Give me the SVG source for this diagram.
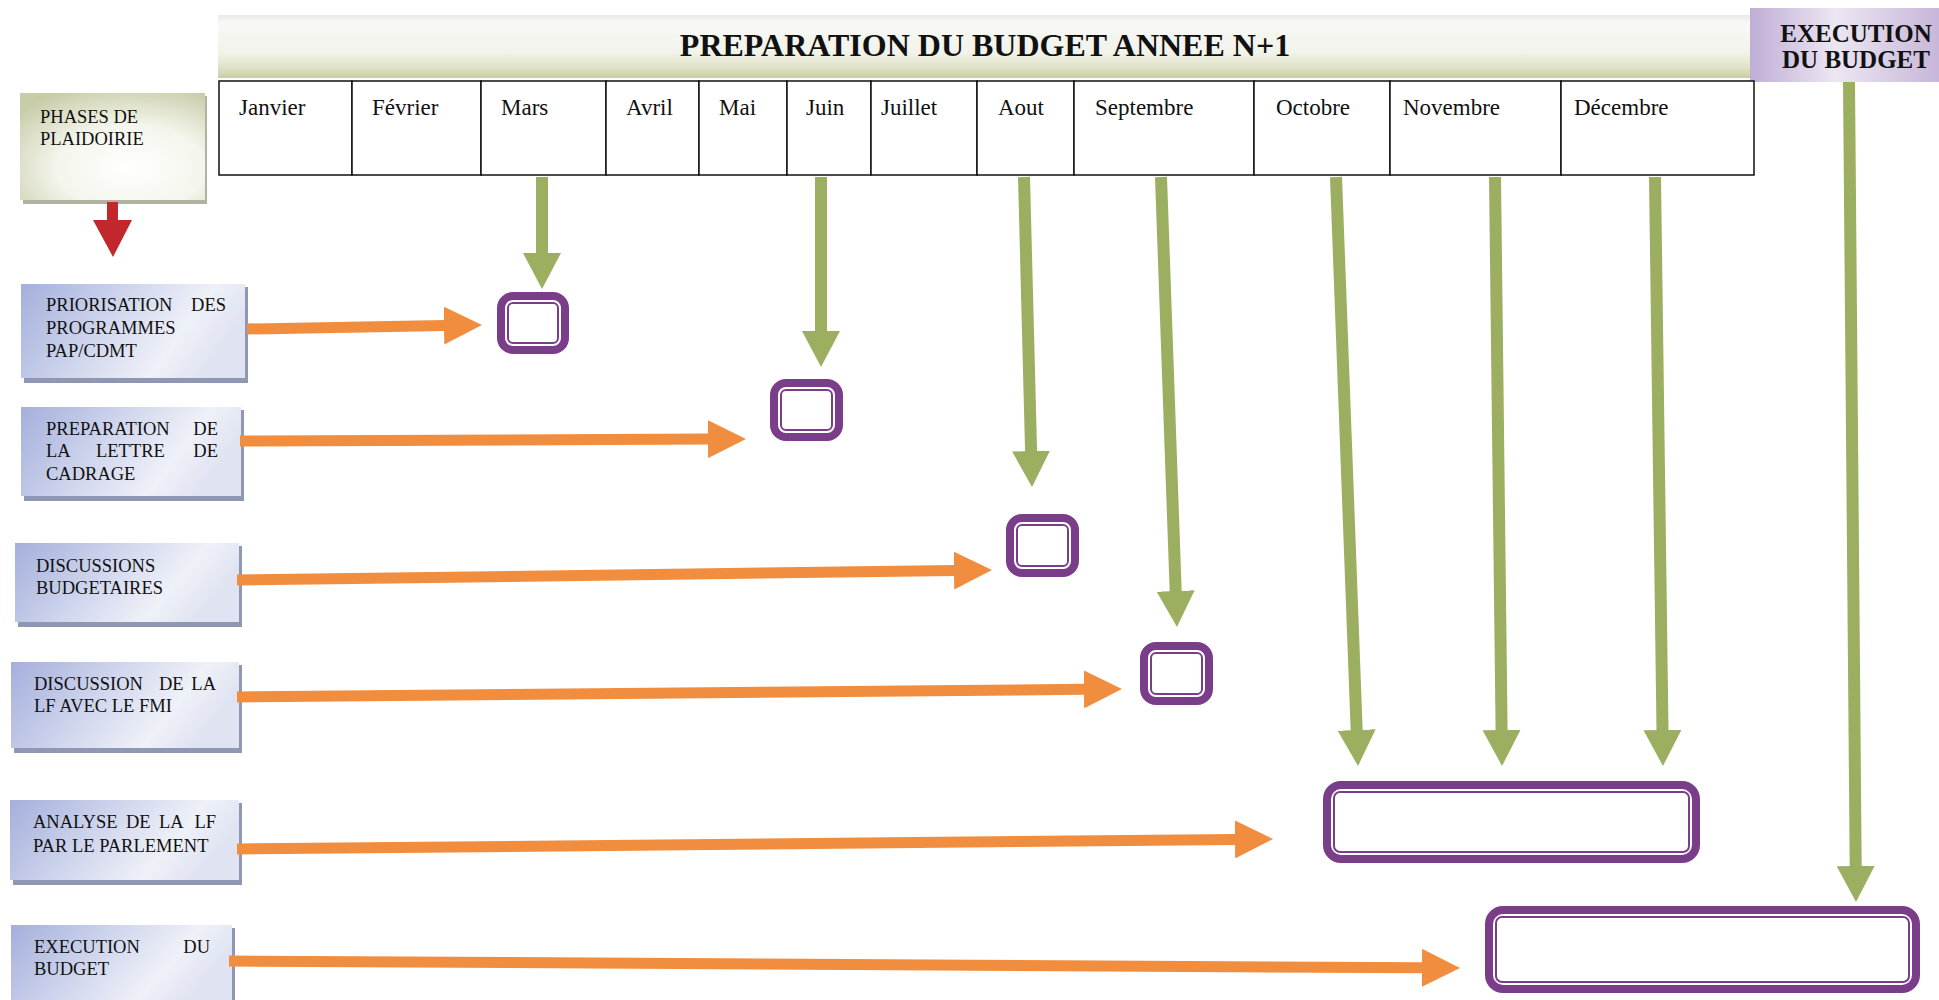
<svg xmlns="http://www.w3.org/2000/svg" width="1939" height="1000" viewBox="0 0 1939 1000">
<defs>
<linearGradient id="gBar" x1="0" y1="0" x2="0" y2="1">
<stop offset="0" stop-color="#e9e9e6"/><stop offset="0.12" stop-color="#f8f8f6"/><stop offset="0.6" stop-color="#f2f3ea"/><stop offset="0.85" stop-color="#dde0c2"/><stop offset="1" stop-color="#c8cda3"/>
</linearGradient>
<linearGradient id="gExec" x1="0" y1="0" x2="1" y2="0">
<stop offset="0" stop-color="#bfadd5"/><stop offset="0.45" stop-color="#ece6f2"/><stop offset="1" stop-color="#c7b6d9"/>
</linearGradient>
<radialGradient id="gPhase" cx="0.6" cy="0.7" r="0.8">
<stop offset="0" stop-color="#ffffff"/><stop offset="0.5" stop-color="#f4f5ec"/><stop offset="1" stop-color="#c8cca8"/>
</radialGradient>
<linearGradient id="gBlue" x1="0" y1="0" x2="1" y2="0.3">
<stop offset="0" stop-color="#a4afdb"/><stop offset="0.45" stop-color="#cfd5ed"/><stop offset="0.8" stop-color="#eff1f8"/><stop offset="1" stop-color="#e0e4f2"/>
</linearGradient>
<marker id="mOrange" viewBox="0 0 38 38" refX="1" refY="19" markerWidth="38" markerHeight="38" markerUnits="userSpaceOnUse" orient="auto">
<path d="M0,0 L38,19 L0,38 Z" fill="#f08d3e"/>
</marker>
<marker id="mGreen" viewBox="0 0 36 38" refX="1" refY="19" markerWidth="36" markerHeight="38" markerUnits="userSpaceOnUse" orient="auto">
<path d="M0,0 L36,19 L0,38 Z" fill="#9cae60"/>
</marker>
</defs>
<style>
.serif{font-family:"Liberation Serif","Times New Roman",serif;fill:#111}
.month{font-size:23px}
.lbl{font-size:18.5px}
.title{font-size:32px;font-weight:bold}
.exec{font-size:25px;font-weight:bold}
.cell{fill:#ffffff;stroke:#111;stroke-width:1.5}
.shadow{fill:#8f97b3}
.blue{fill:url(#gBlue)}
.pOut{fill:none;stroke:#7a3d8a;stroke-width:8}
.pIn{fill:#ffffff;stroke:#7a3d8a;stroke-width:2}
.orange{fill:none;stroke:#f08d3e;stroke-width:11;marker-end:url(#mOrange)}
.green{fill:none;stroke:#9cae60;stroke-width:12;marker-end:url(#mGreen)}
</style>
<rect width="1939" height="1000" fill="#ffffff"/>

<g id="header">
<rect x="218" y="15" width="1532" height="63" fill="url(#gBar)"/>
<text class="serif title" x="985" y="56" text-anchor="middle">PREPARATION DU BUDGET ANNEE N+1</text>
</g>

<g id="exec-header">
<rect x="1750" y="8" width="189" height="74" fill="url(#gExec)"/>
<text class="serif exec" x="1856" y="42" text-anchor="middle">EXECUTION</text>
<text class="serif exec" x="1856" y="68" text-anchor="middle">DU BUDGET</text>
</g>

<g id="months">
<rect class="cell" x="219" y="81" width="133" height="94"/><text class="serif month" x="239" y="115">Janvier</text>
<rect class="cell" x="352" y="81" width="129" height="94"/><text class="serif month" x="372" y="115">Février</text>
<rect class="cell" x="481" y="81" width="125" height="94"/><text class="serif month" x="501" y="115">Mars</text>
<rect class="cell" x="606" y="81" width="93" height="94"/><text class="serif month" x="626" y="115">Avril</text>
<rect class="cell" x="699" y="81" width="88" height="94"/><text class="serif month" x="719" y="115">Mai</text>
<rect class="cell" x="787" y="81" width="84" height="94"/><text class="serif month" x="806" y="115">Juin</text>
<rect class="cell" x="871" y="81" width="106" height="94"/><text class="serif month" x="881" y="115">Juillet</text>
<rect class="cell" x="977" y="81" width="97" height="94"/><text class="serif month" x="998" y="115">Aout</text>
<rect class="cell" x="1074" y="81" width="180" height="94"/><text class="serif month" x="1095" y="115">Septembre</text>
<rect class="cell" x="1254" y="81" width="136" height="94"/><text class="serif month" x="1276" y="115">Octobre</text>
<rect class="cell" x="1390" y="81" width="171" height="94"/><text class="serif month" x="1403" y="115">Novembre</text>
<rect class="cell" x="1561" y="81" width="193" height="94"/><text class="serif month" x="1574" y="115">Décembre</text>
</g>

<g id="phases">
<rect x="23" y="96" width="184" height="108" fill="#b0b39f"/>
<rect x="20" y="93" width="185" height="107" fill="url(#gPhase)"/>
<text class="serif lbl" x="40" y="123">PHASES DE</text>
<text class="serif lbl" x="40" y="145">PLAIDOIRIE</text>
</g>
<g id="phases-arrow">
<path d="M107,202 H118 V220 H132 L113,257 L93,220 H107 Z" fill="#c1272d"/>
</g>

<g id="n-priorisation">
<rect class="shadow" x="24" y="287" width="224" height="96"/>
<rect class="blue" x="21" y="284" width="224" height="94"/>
<text class="serif lbl" y="311"><tspan x="46">PRIORISATION</tspan></text>
<text class="serif lbl" y="311" x="226" text-anchor="end">DES</text>
<text class="serif lbl" x="46" y="334">PROGRAMMES</text>
<text class="serif lbl" x="46" y="357">PAP/CDMT</text>
</g>
<g id="n-preparation">
<rect class="shadow" x="24" y="410" width="220" height="91"/>
<rect class="blue" x="21" y="407" width="220" height="89"/>
<text class="serif lbl" x="46" y="435">PREPARATION</text>
<text class="serif lbl" x="218" y="435" text-anchor="end">DE</text>
<text class="serif lbl" x="46" y="457">LA</text>
<text class="serif lbl" x="96" y="457">LETTRE</text>
<text class="serif lbl" x="218" y="457" text-anchor="end">DE</text>
<text class="serif lbl" x="46" y="480">CADRAGE</text>
</g>
<g id="n-discussions">
<rect class="shadow" x="18" y="546" width="224" height="81"/>
<rect class="blue" x="15" y="543" width="224" height="79"/>
<text class="serif lbl" x="36" y="572">DISCUSSIONS</text>
<text class="serif lbl" x="36" y="594">BUDGETAIRES</text>
</g>
<g id="n-discussion-fmi">
<rect class="shadow" x="14" y="665" width="228" height="88"/>
<rect class="blue" x="11" y="662" width="228" height="86"/>
<text class="serif lbl" x="34" y="690">DISCUSSION</text>
<text class="serif lbl" x="159" y="690">DE</text>
<text class="serif lbl" x="216" y="690" text-anchor="end">LA</text>
<text class="serif lbl" x="34" y="712">LF AVEC LE FMI</text>
</g>
<g id="n-analyse">
<rect class="shadow" x="13" y="803" width="229" height="82"/>
<rect class="blue" x="10" y="800" width="229" height="80"/>
<text class="serif lbl" x="33" y="828">ANALYSE</text>
<text class="serif lbl" x="126" y="828">DE</text>
<text class="serif lbl" x="159" y="828">LA</text>
<text class="serif lbl" x="216" y="828" text-anchor="end">LF</text>
<text class="serif lbl" x="33" y="852">PAR LE PARLEMENT</text>
</g>
<g id="n-execution">
<rect class="shadow" x="14" y="928" width="221" height="72"/>
<rect class="blue" x="11" y="925" width="221" height="75"/>
<text class="serif lbl" x="34" y="953">EXECUTION</text>
<text class="serif lbl" x="210" y="953" text-anchor="end">DU</text>
<text class="serif lbl" x="34" y="975">BUDGET</text>
</g>

<g id="t-mars"><rect class="pOut" x="501" y="296" width="64" height="54" rx="12"/><rect class="pIn" x="508" y="303" width="50" height="40" rx="5"/></g>
<g id="t-juin"><rect class="pOut" x="774" y="383" width="65" height="54" rx="12"/><rect class="pIn" x="781" y="390" width="51" height="40" rx="5"/></g>
<g id="t-aout"><rect class="pOut" x="1010" y="518" width="65" height="55" rx="12"/><rect class="pIn" x="1017" y="525" width="51" height="41" rx="5"/></g>
<g id="t-septembre"><rect class="pOut" x="1144" y="646" width="65" height="55" rx="12"/><rect class="pIn" x="1151" y="653" width="51" height="41" rx="5"/></g>
<g id="t-oct-dec"><rect class="pOut" x="1327" y="785" width="369" height="74" rx="14"/><rect class="pIn" x="1334" y="792" width="355" height="60" rx="6"/></g>
<g id="t-execution"><rect class="pOut" x="1489" y="910" width="427" height="79" rx="14"/><rect class="pIn" x="1496" y="917" width="413" height="65" rx="6"/></g>

<g id="connectors">
<path class="orange" d="M247,329 L445,325.6"/>
<path class="orange" d="M240,441 L709,439.1"/>
<path class="orange" d="M237,580 L955,570.5"/>
<path class="orange" d="M237,697 L1085,689.3"/>
<path class="orange" d="M237,849 L1236,839.4"/>
<path class="orange" d="M229,961 L1423,967.8"/>
<path class="green" d="M542,177 L542,254"/>
<path class="green" d="M821,177 L821,332"/>
<path class="green" d="M1024,177 L1031.1,452"/>
<path class="green" d="M1161,177 L1175.7,592"/>
<path class="green" d="M1336,177 L1356.7,731"/>
<path class="green" d="M1495,177 L1501.6,731"/>
<path class="green" d="M1655,177 L1662.5,731"/>
<path class="green" d="M1849,82 L1855.7,867"/>
</g>
</svg>
